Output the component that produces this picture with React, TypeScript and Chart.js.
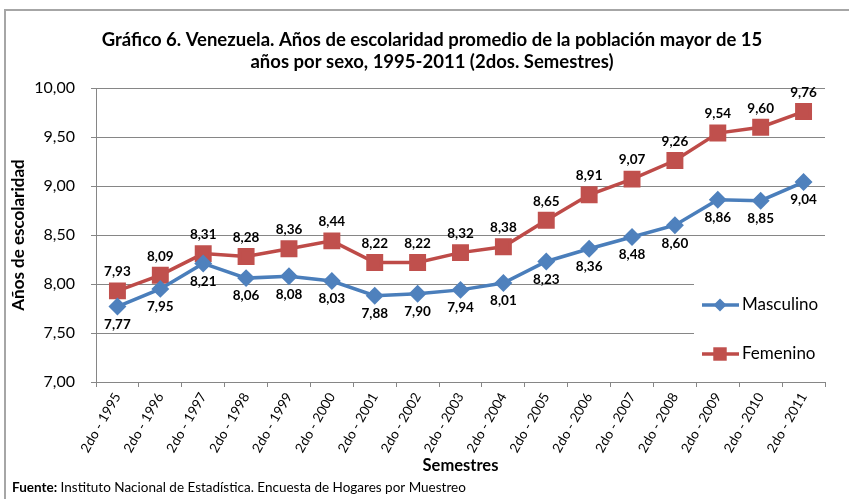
import React, { useEffect, useRef } from 'react';
import { Chart, registerables } from 'chart.js';

Chart.register(...registerables);

const categories = [
  '2do - 1995', '2do - 1996', '2do - 1997', '2do - 1998', '2do - 1999', '2do - 2000',
  '2do - 2001', '2do - 2002', '2do - 2003', '2do - 2004', '2do - 2005', '2do - 2006',
  '2do - 2007', '2do - 2008', '2do - 2009', '2do - 2010', '2do - 2011',
];
const masculino = [7.77, 7.95, 8.21, 8.06, 8.08, 8.03, 7.88, 7.90, 7.94, 8.01, 8.23, 8.36, 8.48, 8.60, 8.86, 8.85, 9.04];
const femenino = [7.93, 8.09, 8.31, 8.28, 8.36, 8.44, 8.22, 8.22, 8.32, 8.38, 8.65, 8.91, 9.07, 9.26, 9.54, 9.60, 9.76];
const seriesNames = ['Masculino', 'Femenino'];
const yMin = 7;
const yMax = 10;
const yStep = 0.5;
const titleLines = [
  'Gráfico 6. Venezuela. Años de escolaridad promedio de la población mayor de 15',
  'años por sexo, 1995-2011 (2dos. Semestres)',
];
const yTitle = 'Años de escolaridad';
const xTitle = 'Semestres';
const sourceLabel = 'Fuente:';
const sourceText = ' Instituto Nacional de Estadística. Encuesta de Hogares por Muestreo';

const FONT = 'Lato, "Open Sans", sans-serif';
const BLUE_LINE = '#4A7EBB';
const BLUE_MARK = '#4F81BD';
const RED_LINE = '#BE4B48';
const RED_MARK = '#C0504D';
const GRID = '#868686';

const fmt = (v: number) => v.toFixed(2).replace('.', ',');

const decorPlugin = {
  id: 'decor',
  beforeDraw(chart: any) {
    const ctx = chart.ctx;
    ctx.save();
    ctx.fillStyle = '#fff';
    ctx.fillRect(0, 0, chart.width, chart.height);
    ctx.restore();
  },
  afterDatasetsDraw(chart: any) {
    const ctx = chart.ctx;
    ctx.save();
    ctx.font = `bold 13.5px ${FONT}`;
    ctx.fillStyle = '#000';
    ctx.textAlign = 'center';
    ctx.textBaseline = 'middle';
    chart.data.datasets.forEach((ds: any, i: number) => {
      const meta = chart.getDatasetMeta(i);
      meta.data.forEach((pt: any, j: number) => {
        const dy = i === 0 ? 18 : -19;
        ctx.fillText(fmt(ds.data[j]), pt.x, pt.y + dy);
      });
    });
    ctx.restore();
  },
  afterDraw(chart: any) {
    const ctx = chart.ctx;
    ctx.save();
    // border
    ctx.strokeStyle = '#A6A6A6';
    ctx.lineWidth = 2;
    ctx.strokeRect(5, 10, 900, 600);
    // title
    ctx.fillStyle = '#000';
    ctx.textAlign = 'center';
    ctx.textBaseline = 'middle';
    ctx.font = `bold 18.5px ${FONT}`;
    ctx.fillText(titleLines[0], 432, 40);
    ctx.fillText(titleLines[1], 432, 62);
    // legend
    const area = chart.chartArea;
    ctx.fillStyle = '#fff';
    ctx.fillRect(694, 240, area.right - 694, 138);
    const items = [
      { name: seriesNames[0], line: BLUE_LINE, mark: BLUE_MARK, style: 'rectRot', r: 6.5, y: 305 },
      { name: seriesNames[1], line: RED_LINE, mark: RED_MARK, style: 'rect', r: 9.5, y: 354 },
    ];
    items.forEach((it) => {
      ctx.strokeStyle = it.line;
      ctx.lineWidth = 3.5;
      ctx.beginPath();
      ctx.moveTo(702, it.y);
      ctx.lineTo(739, it.y);
      ctx.stroke();
      ctx.fillStyle = it.mark;
      if (it.style === 'rect') {
        const s = it.r * Math.SQRT1_2;
        ctx.fillRect(720 - s, it.y - s, 2 * s, 2 * s);
      } else {
        ctx.beginPath();
        ctx.moveTo(720, it.y - it.r);
        ctx.lineTo(720 + it.r, it.y);
        ctx.lineTo(720, it.y + it.r);
        ctx.lineTo(720 - it.r, it.y);
        ctx.closePath();
        ctx.fill();
      }
      ctx.fillStyle = '#000';
      ctx.textAlign = 'left';
      ctx.font = `17px ${FONT}`;
      ctx.fillText(it.name, 742, it.y);
    });
    // footer
    ctx.textAlign = 'left';
    ctx.font = `bold 13.5px ${FONT}`;
    ctx.fillText(sourceLabel, 12, 488);
    const w = ctx.measureText(sourceLabel).width;
    ctx.font = `13.5px ${FONT}`;
    ctx.fillText(sourceText, 12 + w, 488);
    ctx.restore();
  },
};

export default function App() {
  const ref = useRef<HTMLCanvasElement>(null);
  useEffect(() => {
    document.body.style.margin = '0';
    const canvas = ref.current;
    if (!canvas) return;
    const chart = new Chart(canvas, {
      type: 'line',
      data: {
        labels: categories,
        datasets: [
          {
            label: seriesNames[0],
            data: masculino,
            borderColor: BLUE_LINE,
            backgroundColor: BLUE_MARK,
            pointBackgroundColor: BLUE_MARK,
            pointBorderColor: BLUE_MARK,
            pointStyle: 'rectRot',
            pointRadius: 6.5,
            borderWidth: 3.5,
            tension: 0,
          },
          {
            label: seriesNames[1],
            data: femenino,
            borderColor: RED_LINE,
            backgroundColor: RED_MARK,
            pointBackgroundColor: RED_MARK,
            pointBorderColor: RED_MARK,
            pointStyle: 'rect',
            pointRadius: 9.5,
            borderWidth: 3.5,
            tension: 0,
          },
        ],
      },
      options: {
        responsive: false,
        animation: false,
        devicePixelRatio: 1,
        layout: { padding: { left: 5, right: 24, top: 88, bottom: 22 } },
        plugins: {
          legend: { display: false },
          tooltip: { enabled: false },
          title: { display: false },
        },
        scales: {
          x: {
            type: 'category',
            offset: true,
            grid: {
              display: true,
              drawOnChartArea: false,
              drawTicks: true,
              tickLength: 5,
              offset: true,
              color: GRID,
            },
            border: { color: GRID, width: 1 },
            ticks: {
              minRotation: 60,
              maxRotation: 60,
              autoSkip: false,
              padding: 3,
              color: '#000',
              font: { family: FONT, size: 13.5 },
            },
            title: {
              display: true,
              text: xTitle,
              color: '#000',
              font: { family: FONT, size: 16.5, weight: 'bold' },
              padding: { top: 0, bottom: 1 },
            },
            afterFit(scale: any) {
              scale.height = 95;
            },
          },
          y: {
            min: yMin,
            max: yMax,
            grid: { color: GRID, tickLength: 5, drawTicks: true },
            border: { color: GRID, width: 1 },
            ticks: {
              stepSize: yStep,
              padding: 16,
              color: '#000',
              font: { family: FONT, size: 16 },
              callback: (v: any) => fmt(Number(v)),
            },
            title: {
              display: true,
              text: yTitle,
              color: '#000',
              font: { family: FONT, size: 17, weight: 'bold' },
              padding: { top: 3, bottom: 0 },
            },
            afterFit(scale: any) {
              scale.width = 91;
            },
          },
        },
      } as any,
      plugins: [decorPlugin],
    });
    return () => chart.destroy();
  }, []);
  return <canvas ref={ref} width={849} height={499} style={{ display: 'block' }} />;
}
